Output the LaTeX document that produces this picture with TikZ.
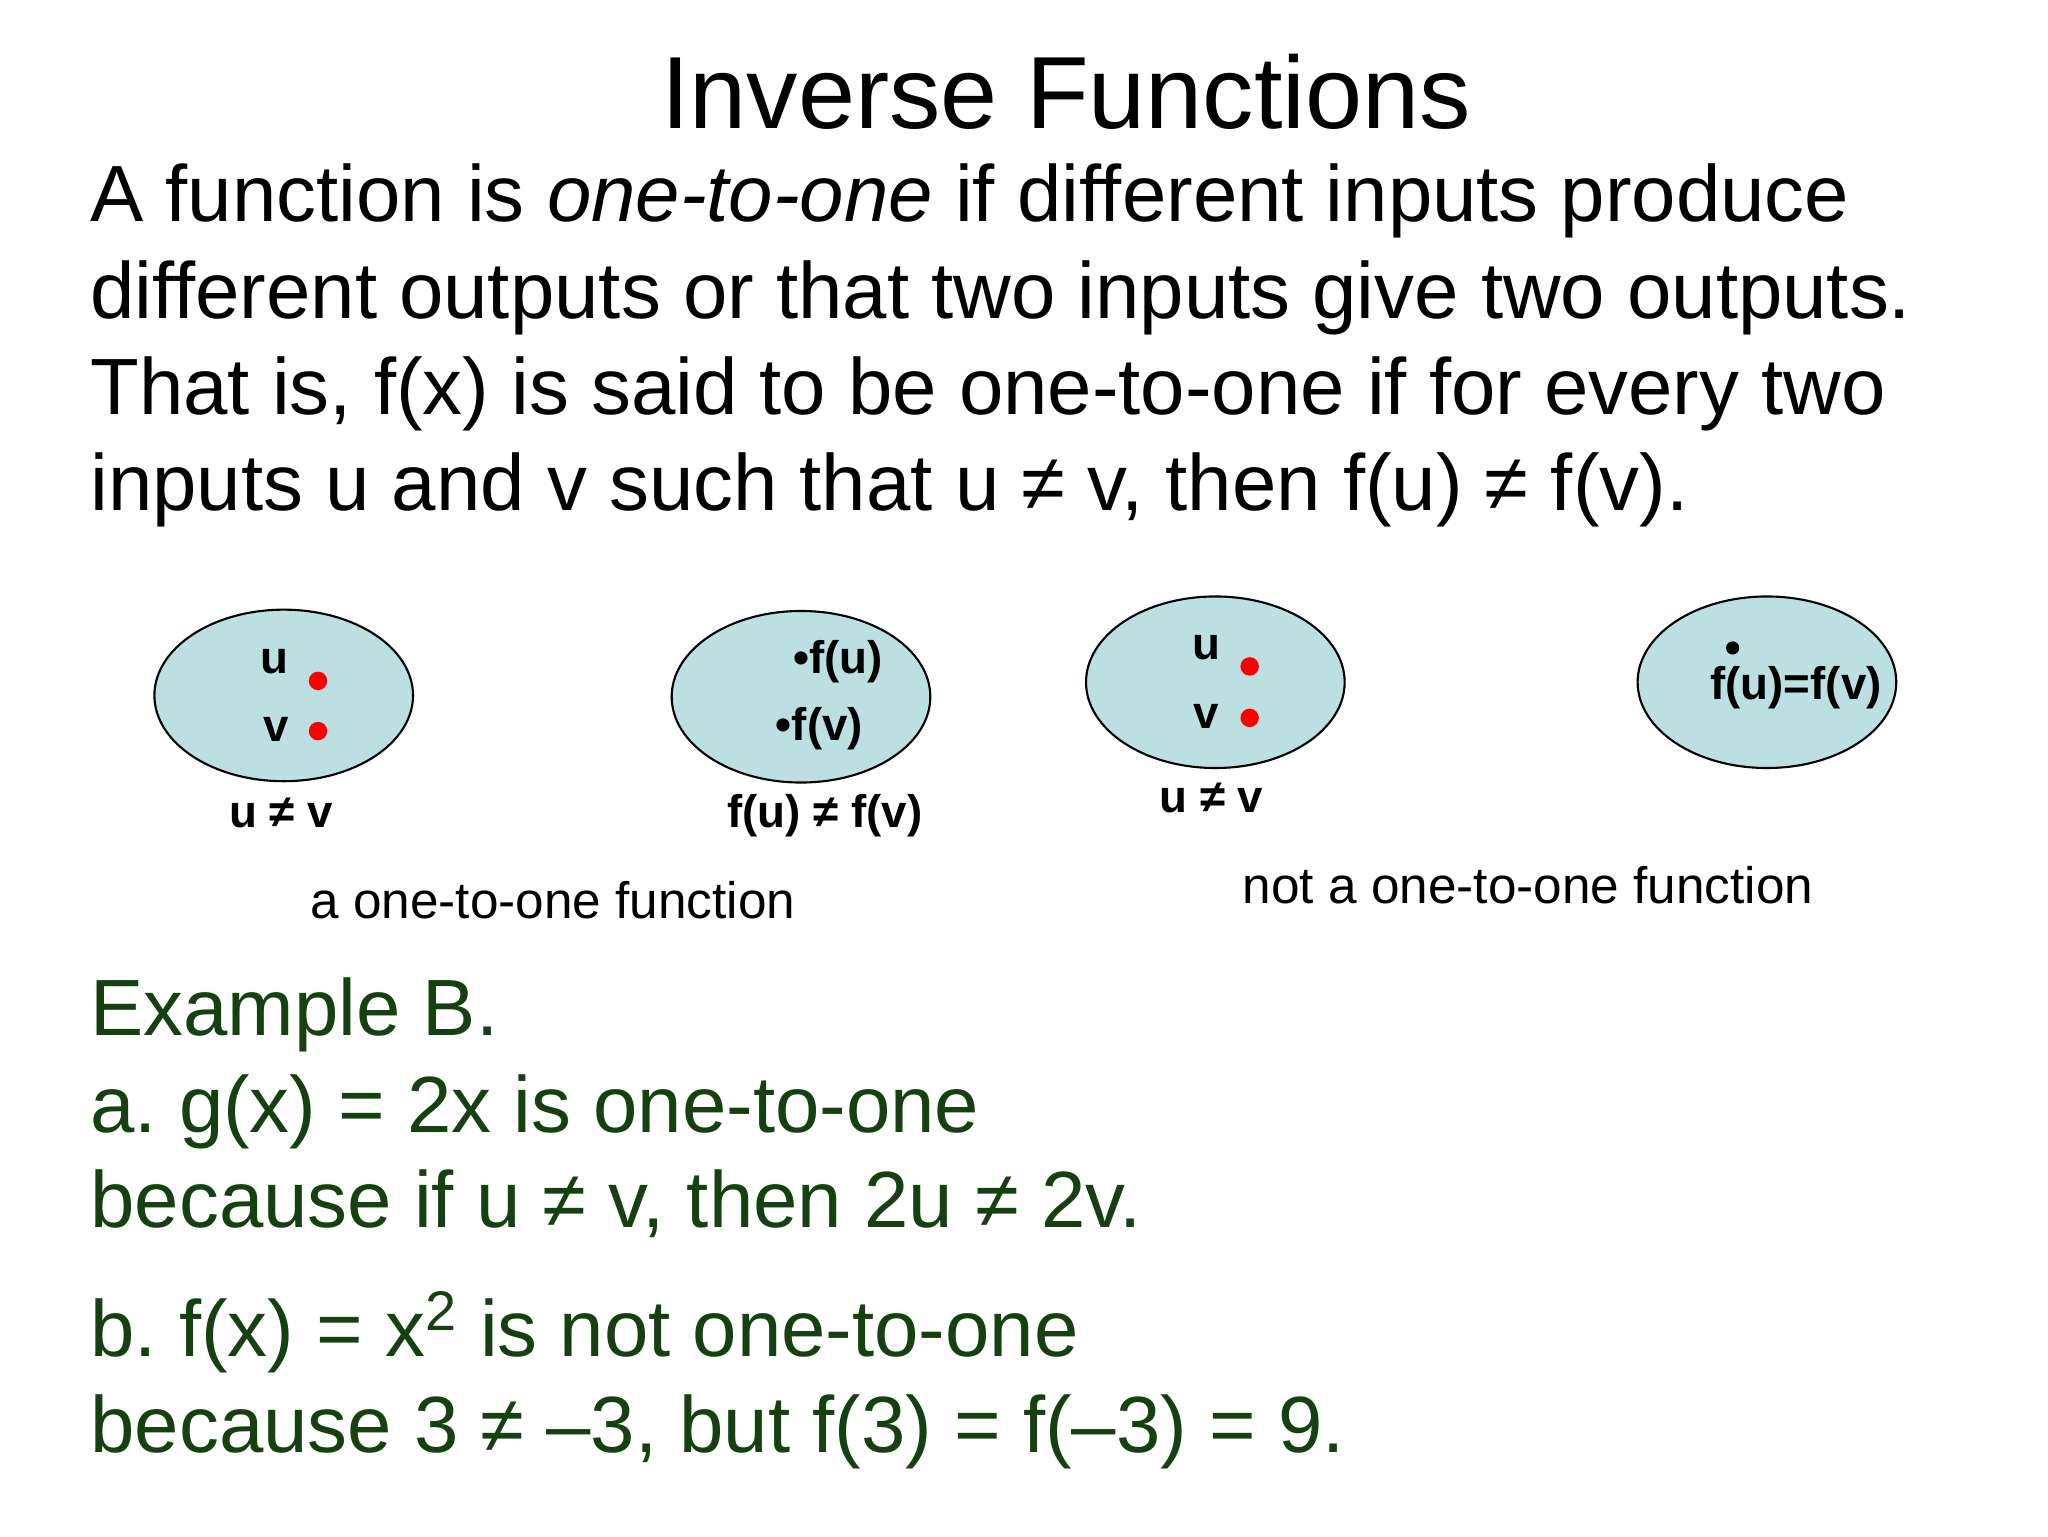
\documentclass[tikz,border=0pt]{standalone}
\usepackage{fontspec}
\setmainfont{Liberation Sans}
\frenchspacing
\definecolor{setblue}{HTML}{BCDFE2}
\definecolor{exgreen}{HTML}{15400F}
\tikzset{
 body/.style={anchor=base west,inner sep=0pt,font=\fontsize{22.7}{27}\selectfont},
 lab/.style={anchor=base,inner sep=0pt,font=\fontsize{13}{15}\bfseries\selectfont},
 captext/.style={anchor=base,inner sep=0pt,font=\fontsize{14.6}{17}\selectfont},
 setfill/.style={draw=black,fill=setblue,line width=0.6pt},
 reddot/.style={fill=red,draw=none},
}
\begin{document}
\begin{tikzpicture}[x=0.013196cm,y=-0.013196cm]
\useasboundingbox (0,0) rectangle (1552,1164);
\fill[white] (0,0) rectangle (1552,1164);
\node[anchor=base,inner sep=0pt,font=\fontsize{29.2}{34}\selectfont] (title) at (808,97) {Inverse Functions};
\node[body] (l1) at (68,168) {A function is \textit{one-to-one} if different inputs produce};
\node[body] (l2) at (68,241) {different outputs or that two inputs give two outputs.};
\node[body] (l3) at (68,314) {That is, f(x) is said to be one-to-one if for every two};
\node[body] (l4) at (68,387) {inputs u and v such that u ≠ v, then f(u) ≠ f(v).};
% ellipses
\draw[setfill] (215,527) ellipse [x radius=98,y radius=65];
\draw[setfill] (607,528) ellipse [x radius=98,y radius=65];
\draw[setfill] (921,517) ellipse [x radius=98,y radius=65];
\draw[setfill] (1339,517) ellipse [x radius=98,y radius=65];
\fill[reddot] (241,516) circle (7);
\fill[reddot] (241,554) circle (7);
\fill[reddot] (947,505) circle (7);
\fill[reddot] (947,544) circle (7);
\fill[black] (1313,491) circle (5);
\node[lab] (u1) at (208,510) {u};
\node[lab] (v1) at (209,562) {v};
\node[lab] (n1) at (213,627) {u ≠ v};
\node[lab] (fu) at (635,510) {•f(u)};
\node[lab] (fv) at (621,561) {•f(v)};
\node[lab] (n2) at (625,627) {f(u) ≠ f(v)};
\node[lab] (u3) at (914,500) {u};
\node[lab] (v3) at (914,552) {v};
\node[lab] (n3) at (918,616) {u ≠ v};
\node[lab] (fuv) at (1361,530) {f(u)=f(v)};
\node[captext] (c1) at (419,696) {a one-to-one function};
\node[captext] (c2) at (1158,685) {not a one-to-one function};
\begin{scope}[every node/.append style={text=exgreen}]
\node[body] (e1) at (68,785) {Example B.};
\node[body] (e2) at (68,858) {a. g(x) = 2x is one-to-one};
\node[body] (e3) at (68,930) {because if u ≠ v, then 2u ≠ 2v.};
\node[body] (e4) at (68,1028) {b. f(x) = x\textsuperscript{2} is not one-to-one};
\node[body] (e5) at (68,1101) {because 3 ≠ –3, but f(3) = f(–3) = 9.};
\end{scope}
\end{tikzpicture}
\end{document}
